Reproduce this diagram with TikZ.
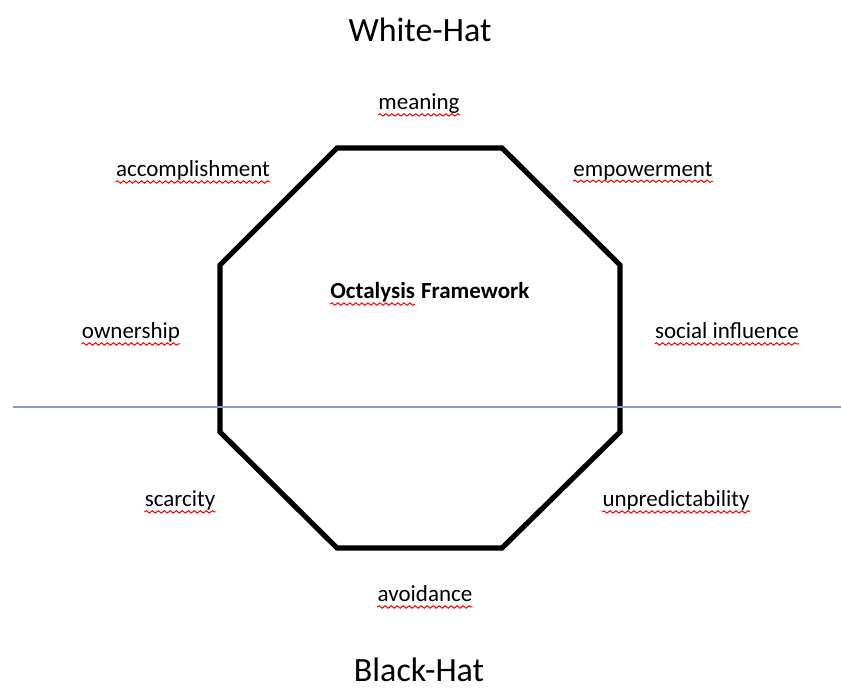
\documentclass[tikz,border=0pt]{standalone}
\usepackage{fontspec}
\setmainfont{Carlito}
\usetikzlibrary{decorations.pathmorphing,positioning}
\definecolor{dividerblue}{RGB}{128,158,208}
\tikzstyle{drive}=[font=\fontsize{11.5}{13}\selectfont, inner sep=0pt, text depth=0.25ex]
\tikzstyle{hat}=[font=\fontsize{17}{20}\selectfont, inner sep=0pt]
\tikzstyle{squiggle}=[draw=red, line width=0.5pt, decorate, decoration={snake, segment length=3pt, amplitude=0.6pt}]
\tikzstyle{octagon}=[draw, line width=2.6pt, line join=miter]
\tikzstyle{divider}=[draw=dividerblue, line width=0.6pt]

\begin{document}
\begin{tikzpicture}[x=0.5pt, y=-0.5pt]

    \useasboundingbox (0,0) rectangle (841,690);

    % octagon corners
    \foreach \x/\y/\name in {337/148/c1, 502/148/c2, 620/265/c3, 620/432/c4, 502/548/c5, 337/548/c6, 220/432/c7, 220/265/c8}
        \coordinate (\name) at (\x, \y);
    \path[octagon] (c1) -- (c2) -- (c3) -- (c4) -- (c5) -- (c6) -- (c7) -- (c8) -- cycle;

    % white-hat / black-hat divider
    \coordinate (lineleft) at (13, 407);
    \coordinate (lineright) at (841, 407);
    \path[divider] (lineleft) -- (lineright);

    % core drives
    \foreach \x/\y/\name/\text in {419/103/meaning/meaning, 193/170/accomplishment/accomplishment, 643/170/empowerment/empowerment, 131/332/ownership/ownership, 727/332/social/social influence, 180/500/scarcity/scarcity, 676/500/unpredictability/unpredictability, 425/595/avoidance/avoidance}
    {
        \node[drive] (\name) at (\x, \y) {\text};
        \path[squiggle] ([yshift=-1.2pt]\name.south west) -- ([yshift=-1.2pt]\name.south east);
    }

    % centre title
    \node[drive, font=\fontsize{11.5}{13}\selectfont\bfseries, anchor=west] (octword) at (330, 292) {Octalysis};
    \node[drive, font=\fontsize{11.5}{13}\selectfont\bfseries, right=2.6pt of octword] (frameword) {Framework};
    \path[squiggle] ([yshift=-1.2pt]octword.south west) -- ([yshift=-1.2pt]octword.south east);

    \node[hat] (white) at (420, 30) {White-Hat};
    \node[hat] (black) at (419, 670) {Black-Hat};

\end{tikzpicture}
\end{document}
